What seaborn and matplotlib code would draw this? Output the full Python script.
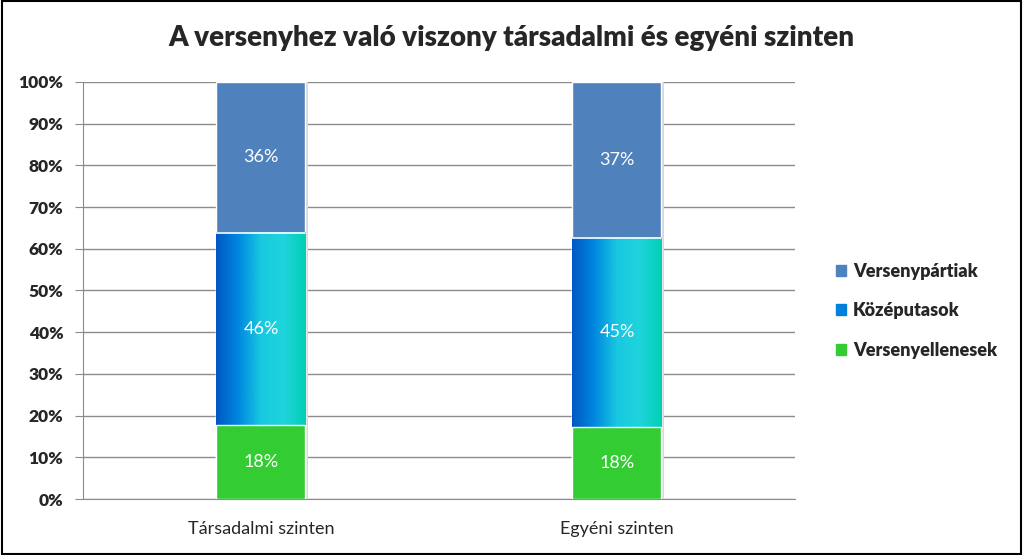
import numpy as np
import pandas as pd
import matplotlib.pyplot as plt
import seaborn as sns
from matplotlib.patches import Rectangle
from matplotlib.colors import LinearSegmentedColormap

# Adatok
categories = ['Társadalmi szinten', 'Egyéni szinten']
series = ['Versenyellenesek', 'Középutasok', 'Versenypártiak']
ellenesek = [17.7, 17.3]
kozeputasok = [46.1, 45.3]
partiak = [36.2, 37.4]
labels_ellenes = ['18%', '18%']
labels_kozep = ['46%', '45%']
labels_parti = ['36%', '37%']

sns.set_style('white')
plt.rcParams['font.family'] = ['Lato', 'DejaVu Sans']

df = pd.DataFrame({'cat': categories,
                   'c1': ellenesek,
                   'c2': np.add(ellenesek, kozeputasok),
                   'c3': np.add(np.add(ellenesek, kozeputasok), partiak)})

fig = plt.figure(figsize=(10.23, 5.55), dpi=100)
ax = fig.add_axes([0.0811, 0.1009, 0.696, 0.7514])

green = '#33CC33'
blue = '#4F81BD'
grad = LinearSegmentedColormap.from_list('g', ['#0058C4', '#0088E0', '#18C8E0', '#20D4DC', '#00D0B4'])

# egymásra rajzolt oszlopok (összegzett értékek)
sns.barplot(data=df, x='cat', y='c3', color=blue, saturation=1, width=0.25,
            edgecolor='white', linewidth=1, ax=ax, zorder=3)
sns.barplot(data=df, x='cat', y='c2', color='#0088E0', saturation=1, width=0.25,
            edgecolor='white', linewidth=1, ax=ax, zorder=4)
sns.barplot(data=df, x='cat', y='c1', color=green, saturation=1, width=0.25,
            edgecolor='white', linewidth=1, ax=ax, zorder=6)

# enyhe árnyék a jobb oldalon
for p in ax.containers[0].patches:
    ax.add_patch(Rectangle((p.get_x() + p.get_width(), 0), 0.006, p.get_height(),
                           color='#D8D8D8', lw=0, zorder=2))

# színátmenet a középső szegmensen
gimg = np.linspace(0, 1, 256).reshape(1, -1)
for p in ax.containers[1].patches:
    x0, w = p.get_x(), p.get_width()
    ax.imshow(gimg, cmap=grad, aspect='auto', extent=[x0, x0 + w, 0, p.get_height()],
              zorder=5, interpolation='bicubic')
    ax.plot([x0, x0 + w], [p.get_height(), p.get_height()], color='white', lw=1.2, zorder=5.5)

# adatfeliratok
for i in range(len(categories)):
    ax.text(i, ellenesek[i] / 2, labels_ellenes[i], ha='center', va='center', color='white', fontsize=13, zorder=7)
    ax.text(i, ellenesek[i] + kozeputasok[i] / 2, labels_kozep[i], ha='center', va='center', color='white', fontsize=13, zorder=7)
    ax.text(i, df['c2'][i] + partiak[i] / 2, labels_parti[i], ha='center', va='center', color='white', fontsize=13, zorder=7)

ax.set_xlim(-0.5, 1.5)
ax.set_ylim(0, 100)
ax.set_yticks(np.arange(0, 101, 10))
ax.set_yticklabels([f'{v}%' for v in range(0, 101, 10)], fontweight='heavy', fontsize=12.5)
ax.set_xticklabels(categories, fontsize=13)
ax.set_xlabel('')
ax.set_ylabel('')
ax.grid(axis='y', color='#8C8C8C', lw=1, zorder=0)
ax.set_axisbelow(True)
for s in ['top', 'right']:
    ax.spines[s].set_visible(False)
ax.spines['left'].set_color('#8C8C8C')
ax.spines['bottom'].set_color('#8C8C8C')
ax.tick_params(axis='y', length=6, color='#8C8C8C', pad=8, left=True)
ax.tick_params(axis='x', length=0, pad=16)

# jelmagyarázat
handles = [Rectangle((0, 0), 1, 1, color=blue),
           Rectangle((0, 0), 1, 1, color='#0080DC'),
           Rectangle((0, 0), 1, 1, color=green)]
leg = fig.legend(handles, ['Versenypártiak', 'Középutasok', 'Versenyellenesek'],
                 loc='center left', bbox_to_anchor=(0.801, 0.44), frameon=False,
                 handlelength=0.55, handleheight=0.55, handletextpad=0.4, labelspacing=1.25,
                 prop={'weight': 'heavy', 'size': 13})

fig.suptitle('A versenyhez való viszony társadalmi és egyéni szinten', fontsize=20,
             fontweight='heavy', x=0.5, y=0.955)

fig.add_artist(Rectangle((0.002, 0.002), 0.996, 0.996, transform=fig.transFigure,
                         fill=False, edgecolor='black', lw=1.5))

fig.savefig('out.png', dpi=100)
